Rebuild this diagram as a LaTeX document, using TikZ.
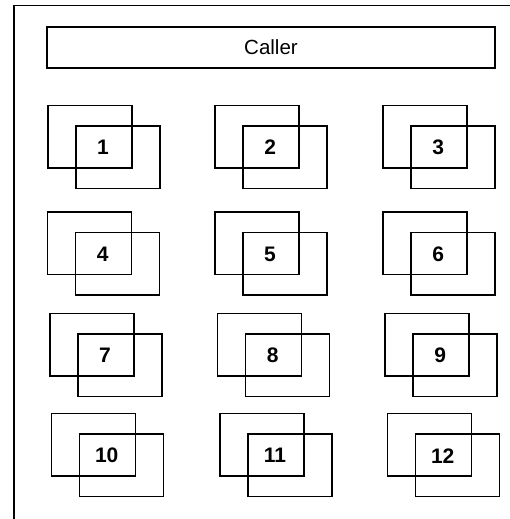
\documentclass[tikz,border=0pt]{standalone}
\usepackage{fontspec}
\setmainfont{Liberation Sans}
\usetikzlibrary{positioning}
\tikzset{
    lane/.style={draw, line width=1.5pt, anchor=north west, inner sep=0pt,
        minimum width=84pt, minimum height=62.5pt},
    num/.style={font=\fontsize{21}{22}\selectfont\bfseries, inner sep=0pt}
}

\begin{document}
\begin{tikzpicture}[x=1pt, y=-1pt]
    \useasboundingbox (0,0) rectangle (510,519);
    \node[draw, line width=1.5pt, anchor=north west, minimum width=540pt, minimum height=540pt] (frame) at (13,5) {};
    \node[draw, line width=1.5pt, minimum width=448pt, minimum height=41pt, font=\fontsize{20.5}{22}\selectfont] (caller) at (271,47.5) {Caller};

    % row 1
    \node[lane] (b1) at (47,104.5) {};
    \node[lane] (f1) at (75,125.2) {};
    \node[num] (n1) at (103,147.5) {1};
    \node[lane] (b2) at (214.3,104.5) {};
    \node[lane] (f2) at (242.3,125.2) {};
    \node[num] (n2) at (270.3,147.5) {2};
    \node[lane] (b3) at (382.3,104.5) {};
    \node[lane] (f3) at (410.3,125.2) {};
    \node[num] (n3) at (438.3,147.5) {3};

    % row 2
    \node[lane] (b4) at (46.7,211) {};
    \node[lane] (f4) at (74.7,231.7) {};
    \node[num] (n4) at (102.7,254) {4};
    \node[lane] (b5) at (214,211) {};
    \node[lane] (f5) at (242,231.7) {};
    \node[num] (n5) at (270,254) {5};
    \node[lane] (b6) at (382.3,211) {};
    \node[lane] (f6) at (410.3,231.7) {};
    \node[num] (n6) at (438.3,254) {6};

    % row 3
    \node[lane] (b7) at (49,312.5) {};
    \node[lane] (f7) at (77,333.2) {};
    \node[num] (n7) at (105,355.5) {7};
    \node[lane] (b8) at (216.7,312.5) {};
    \node[lane] (f8) at (244.7,333.2) {};
    \node[num] (n8) at (272.7,355.5) {8};
    \node[lane] (b9) at (384.3,312.5) {};
    \node[lane] (f9) at (412.3,333.2) {};
    \node[num] (n9) at (440.3,355.5) {9};

    % row 4
    \node[lane] (b10) at (50.7,412.7) {};
    \node[lane] (f10) at (78.7,433.4) {};
    \node[num] (n10) at (106.7,455.7) {10};
    \node[lane] (b11) at (219,412.7) {};
    \node[lane] (f11) at (247,433.4) {};
    \node[num] (n11) at (275,455.7) {11};
    \node[lane] (b12) at (386.7,412.7) {};
    \node[lane] (f12) at (414.7,433.4) {};
    \node[num] (n12) at (442.7,455.7) {12};
\end{tikzpicture}
\end{document}
